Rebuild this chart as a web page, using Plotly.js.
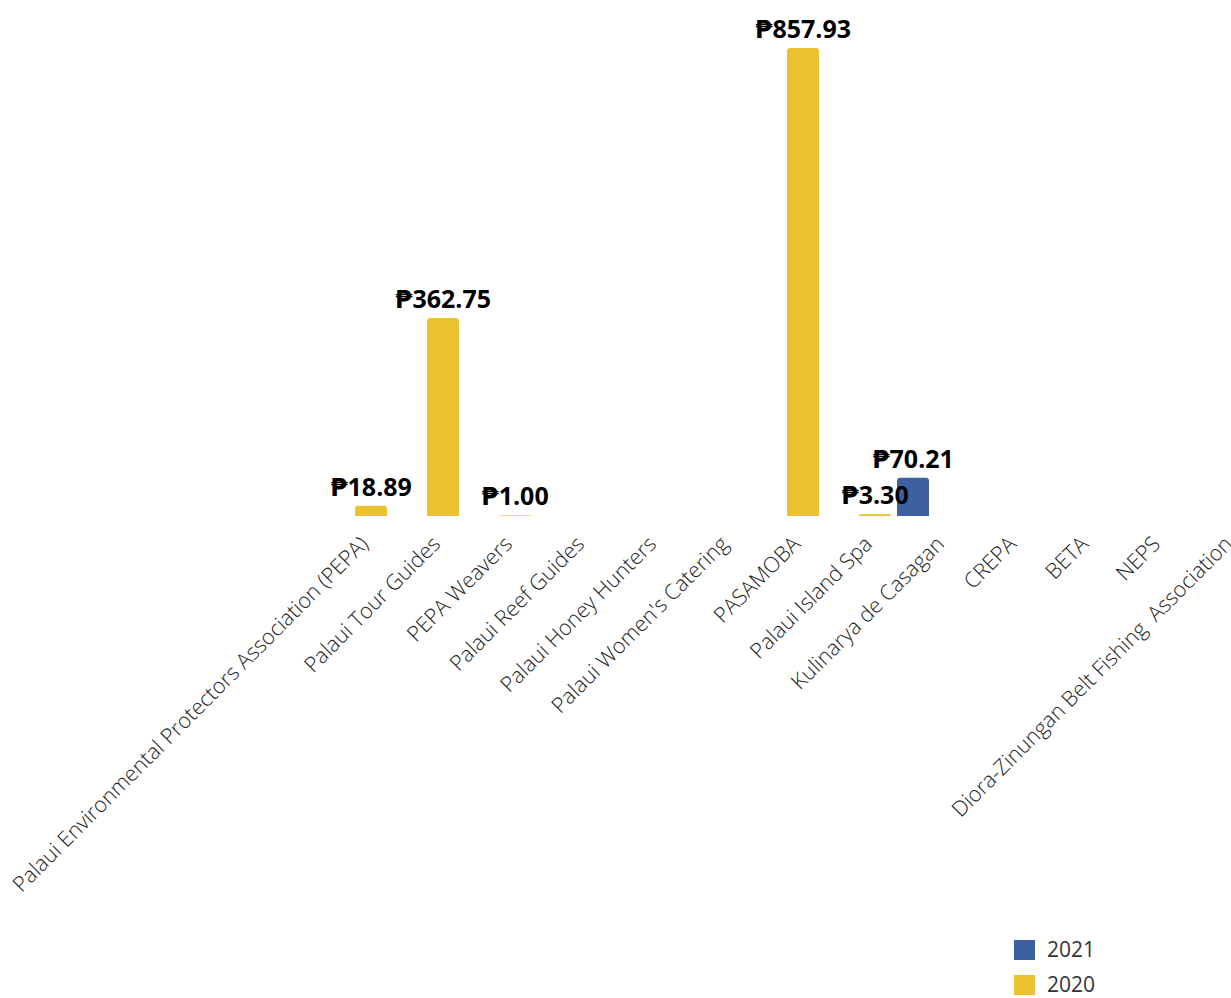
<!DOCTYPE html>
<html>
<head>
<meta charset="utf-8">
<script src="https://cdn.plot.ly/plotly-3.0.1.min.js"></script>
<style>
  html, body { margin: 0; padding: 0; background: #fff; }
  #plot { width: 1231px; height: 998px; }
</style>
</head>
<body>
<div id="plot"></div>
<script>
// categories and values
const groups = [
  "Palaui Environmental Protectors Association (PEPA)",
  "Palaui Tour Guides",
  "PEPA Weavers",
  "Palaui Reef Guides",
  "Palaui Honey Hunters",
  "Palaui Women's Catering",
  "PASAMOBA",
  "Palaui Island Spa",
  "Kulinarya de Casagan",
  "CREPA",
  "BETA",
  "NEPS",
  "Diora-Zinungan Belt Fishing\u00a0 Association"
];

const years = ["2021", "2020"];

const values2021 = [null, null, null, null, null, null, null, null, 70.21, null, null, null, null];
const values2020 = [18.89, 362.75, 1.00, null, null, null, 857.93, 3.30, null, null, null, null, null];

const colors = { "2021": "#3d60a1", "2020": "#e9c22e" };

// plot area in pixels, used for the hand-drawn legend
const W = 1231, H = 998;
const M = { l: 318, r: 0, t: 20, b: 482 };
const plotW = W - M.l - M.r;
const plotH = H - M.t - M.b;
const px = x => (x - M.l) / plotW;
const py = y => (H - M.b - y) / plotH;

const labelFont = "'Open Sans', 'DejaVu Sans', sans-serif";

function barTrace(name, vals) {
  return {
    type: "bar",
    name: name,
    x: groups,
    y: vals,
    marker: { color: colors[name], cornerradius: 3, line: { width: 0 } },
    texttemplate: "₱%{y:.2f}",
    textposition: "outside",
    constraintext: "none",
    cliponaxis: false,
    textfont: { family: labelFont, size: 25, weight: 700, color: "#000" },
    hoverinfo: "x+y"
  };
}

const data = [barTrace("2021", values2021), barTrace("2020", values2020)];

// legend drawn by hand so the swatches can be bigger
const shapes = [];
const annotations = [];
years.forEach((yr, i) => {
  const top = 940 + i * 35;
  shapes.push({
    type: "rect", xref: "paper", yref: "paper",
    x0: px(1014), x1: px(1035), y0: py(top), y1: py(top + 20),
    fillcolor: colors[yr], line: { width: 0 }
  });
  annotations.push({
    xref: "paper", yref: "paper",
    x: px(1045), y: py(top + 9),
    xanchor: "left", yanchor: "middle",
    text: yr, showarrow: false,
    font: { family: "Open Sans", size: 21, color: "#333" }
  });
});

const layout = {
  width: W,
  height: H,
  autosize: false,
  margin: M,
  paper_bgcolor: "#fff",
  plot_bgcolor: "#fff",
  showlegend: false,
  barmode: "group",
  bargap: 0.056,
  bargroupgap: 0.06,
  xaxis: {
    type: "category",
    range: [-0.5, -0.5 + plotW / 72],
    tickangle: -45,
    showgrid: false,
    zeroline: false,
    showline: false,
    ticks: "",
    ticklabelstandoff: 10,
    ticklabelshift: 8,
    automargin: false,
    tickfont: { family: "Open Sans", size: 21.5, weight: 300, color: "#222" }
  },
  yaxis: {
    range: [0, 857.93 * plotH / 468],
    visible: false,
    fixedrange: true
  },
  shapes: shapes,
  annotations: annotations
};

Plotly.newPlot("plot", data, layout, { displayModeBar: false, staticPlot: true });
</script>
</body>
</html>
